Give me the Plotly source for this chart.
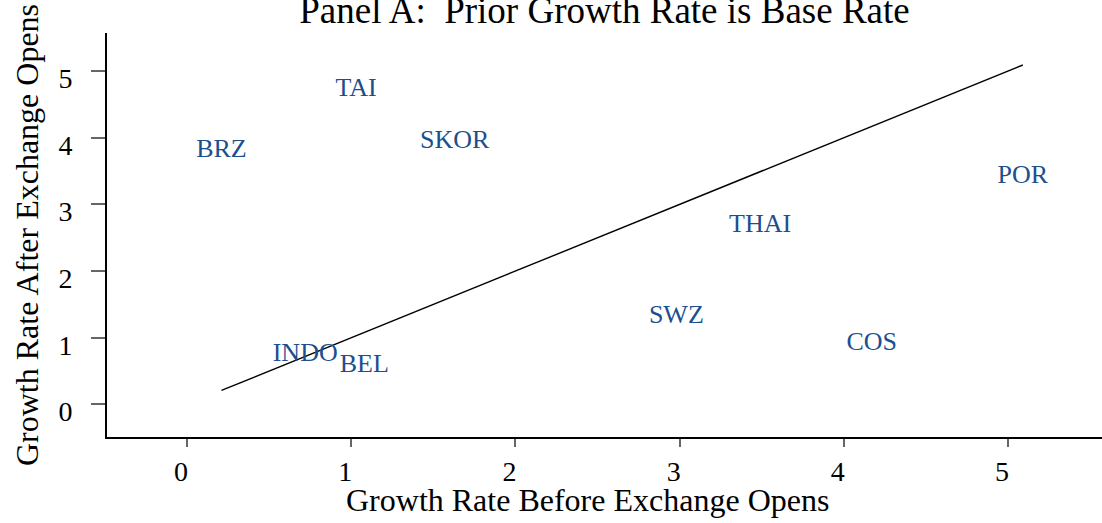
import plotly.graph_objects as go

countries = ["TAI", "BRZ", "SKOR", "POR", "THAI", "SWZ", "COS", "INDO", "BEL"]
growth_before = [1.03, 0.21, 1.63, 5.09, 3.49, 2.98, 4.17, 0.72, 1.08]
growth_after = [4.73, 3.81, 3.94, 3.42, 2.68, 1.32, 0.91, 0.75, 0.59]

x_ticks = [0, 1, 2, 3, 4, 5]
y_ticks = [0, 1, 2, 3, 4, 5]

FONT = "Liberation Serif"
LABEL_COLOR = "#1c4f8e"

lo = min(growth_before)
hi = max(growth_before)

fig = go.Figure()
fig.add_trace(go.Scatter(
    x=[lo, hi], y=[lo, hi], mode="lines",
    line=dict(color="black", width=1.4), showlegend=False, hoverinfo="skip"))
fig.add_trace(go.Scatter(
    x=growth_before, y=growth_after, mode="text", text=countries,
    textposition="middle center",
    textfont=dict(family=FONT, size=26, color=LABEL_COLOR),
    showlegend=False))

fig.update_layout(
    width=1102, height=523,
    margin=dict(l=107, r=0, t=33, b=86, pad=0),
    paper_bgcolor="white", plot_bgcolor="white",
    font=dict(family=FONT, color="black"),
    title=dict(text="Panel A:  Prior Growth Rate is Base Rate",
               font=dict(family=FONT, size=37, color="black"),
               x=0.5, xref="paper", xanchor="center",
               y=1 - 10 / 523, yref="container", yanchor="middle"),
    annotations=[dict(
        text="Growth Rate Before Exchange Opens",
        font=dict(family=FONT, size=32, color="black"),
        xref="paper", yref="paper", x=(587 - 107) / 995, y=-(500 - 437) / 404,
        xanchor="center", yanchor="middle", showarrow=False)],
)
fig.update_xaxes(
    range=[-0.487, 5.572], tickvals=x_ticks, ticks="outside", ticklen=8,
    tickwidth=1.5, tickcolor="#666", showline=True, linecolor="black",
    linewidth=2, showgrid=False, zeroline=False,
    tickfont=dict(family=FONT, size=28, color="black"),
    ticklabelshift=-6, ticklabelstandoff=0,
)
fig.update_yaxes(
    range=[-0.488, 5.57], tickvals=y_ticks, ticks="outside", ticklen=14,
    tickwidth=1.5, tickcolor="#666", showline=True, linecolor="black",
    linewidth=2, showgrid=False, zeroline=False,
    tickfont=dict(family=FONT, size=28, color="black"),
    ticklabelshift=7, ticklabelstandoff=13,
    title=dict(text="Growth Rate After Exchange Opens",
               font=dict(family=FONT, size=32, color="black"), standoff=10),
)

fig.write_html(
    "out.html",
    config={"displayModeBar": False},
    post_script="document.body.style.margin='0';document.body.style.overflow='hidden';",
)
